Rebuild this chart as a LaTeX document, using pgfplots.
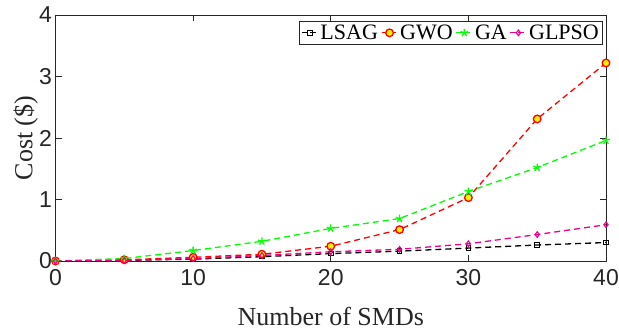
\documentclass[border=0pt]{standalone}
\usepackage{pgfplots}
\pgfplotsset{compat=1.18}
\usepackage{fontspec}
\setmainfont{Liberation Serif}
\newfontfamily\ticksans{Liberation Sans}
\definecolor{axgray}{RGB}{38,38,38}
\definecolor{mgreen}{RGB}{0,255,0}
\begin{document}
\begin{tikzpicture}
\begin{axis}[
  name=ax,
  scale only axis,
  width=550.5pt, height=246pt,
  xmin=0, xmax=40, ymin=0, ymax=4,
  xtick={0,10,20,30,40}, ytick={0,1,2,3,4},
  tick align=inside,
  tick pos=both,
  major tick length=6pt,
  axis line style={draw=axgray, line width=0.8pt},
  every tick/.style={axgray, line width=0.8pt},
  tick label style={font=\fontsize{23}{25}\selectfont\ticksans, text=axgray},
  /pgf/number format/assume math mode=true,
  xticklabel style={yshift=-5pt},
  yticklabel style={xshift=0pt},
  xlabel={Number of SMDs},
  ylabel={Cost (\$)},
  label style={font=\fontsize{26}{28}\selectfont, text=axgray},
  xlabel style={at={(axis description cs:0.5,0)}, anchor=base, yshift=-64pt},
  ylabel style={at={(axis description cs:0,0.5)}, anchor=base, rotate=0, yshift=23pt},
  legend columns=4,
  legend style={at={(0.994,0.976)}, anchor=north east, font=\fontsize{22}{24}\selectfont,
    draw=axgray, line width=0.8pt, inner sep=1.5pt, /tikz/every even column/.append style={column sep=1pt}},
  legend image code/.code={\draw[#1] (0pt,0pt) -- (8pt,0pt) plot coordinates {(8pt,0pt)} -- (16pt,0pt);},
]
\addplot[black, dash pattern=on 6pt off 4pt, line width=1.3pt, mark=square, mark size=2.3pt, mark options={solid, line width=1pt}]
 coordinates {(0,0) (5,0.01) (10,0.03) (15,0.07) (20,0.12) (25,0.16) (30,0.21) (35,0.26) (40,0.30)};
\addlegendentry{LSAG}
\addplot[red, dash pattern=on 6pt off 4pt, line width=1.3pt, mark=*, mark size=3.8pt, mark options={solid, fill=yellow, draw=red, line width=1.3pt}]
 coordinates {(0,0) (5,0.02) (10,0.06) (15,0.11) (20,0.24) (25,0.51) (30,1.03) (35,2.31) (40,3.22)};
\addlegendentry{GWO}
\addplot[mgreen, dash pattern=on 6pt off 4pt, line width=1.3pt, mark=star, mark size=4pt, mark options={solid, line width=1.3pt}]
 coordinates {(0,0) (5,0.04) (10,0.17) (15,0.32) (20,0.53) (25,0.69) (30,1.13) (35,1.52) (40,1.96)};
\addlegendentry{GA}
\addplot[magenta, dash pattern=on 6pt off 4pt, line width=1.3pt, mark=diamond, mark size=2.8pt, mark options={solid, line width=1.1pt}]
 coordinates {(0,0) (5,0.01) (10,0.04) (15,0.09) (20,0.15) (25,0.19) (30,0.28) (35,0.43) (40,0.59)};
\addlegendentry{GLPSO}
\end{axis}
\pgfresetboundingbox
\path ([shift={(-55.5pt,-72pt)}]ax.south west) rectangle ([shift={(13pt,15pt)}]ax.north east);
\end{tikzpicture}
\end{document}
